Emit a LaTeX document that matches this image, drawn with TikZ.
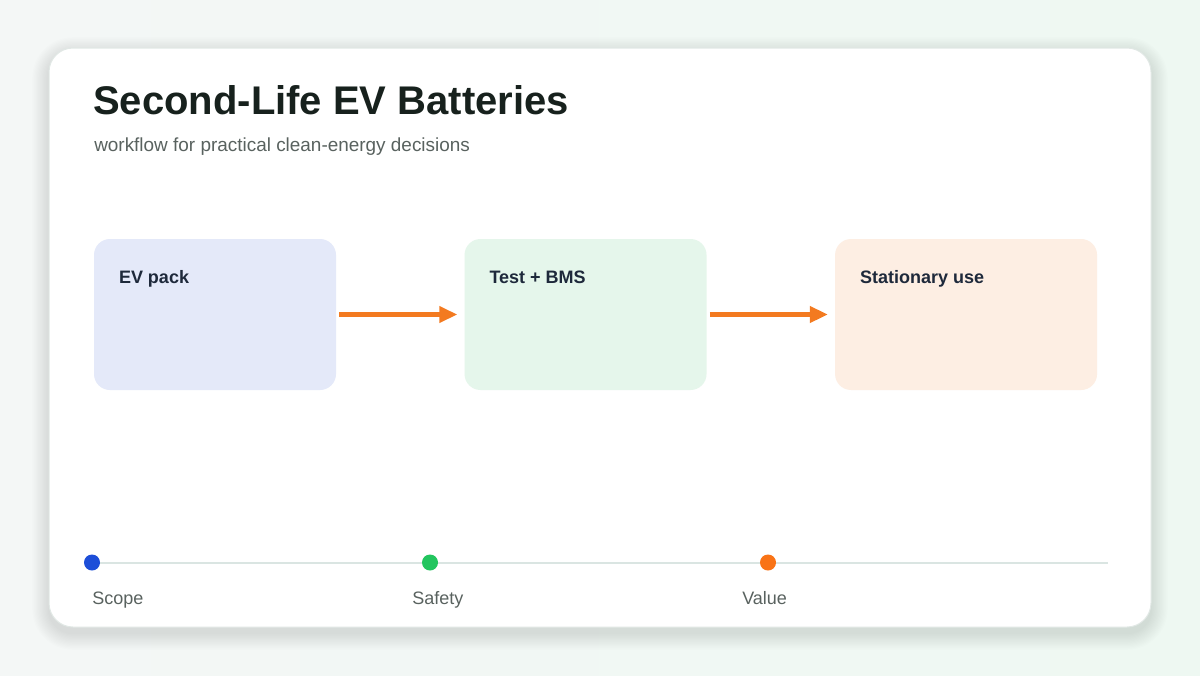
\documentclass[tikz,border=0pt]{standalone}
\usepackage{fontspec}
\setmainfont{Liberation Sans}
\usepackage{tikz}
\usetikzlibrary{arrows.meta, positioning, calc}
\usepackage{xcolor}
\definecolor{pagebg}{HTML}{F4F7F6}
\definecolor{pagebgr}{HTML}{EEF8F2}
\definecolor{cardedge}{HTML}{E1E8E5}
\definecolor{shadowink}{HTML}{2F5A4A}
\definecolor{titleink}{HTML}{17211D}
\definecolor{subink}{HTML}{59625F}
\definecolor{stageink}{HTML}{1E293B}
\definecolor{evfill}{HTML}{E4E9F9}
\definecolor{testfill}{HTML}{E5F6EB}
\definecolor{usefill}{HTML}{FDEEE3}
\definecolor{flowink}{HTML}{F37A20}
\definecolor{trackink}{HTML}{DAE5E2}
\definecolor{scopedot}{HTML}{1D4ED8}
\definecolor{safetydot}{HTML}{22C55E}
\definecolor{valuedot}{HTML}{F97316}

\begin{document}
\begin{tikzpicture}[
      x=0.75pt, y=-0.75pt,
      card/.style={rectangle, rounded corners=18pt, fill=white, draw=cardedge, line width=0.75pt,
                   minimum width=826.5pt, minimum height=434.25pt},
      stage/.style={rectangle, rounded corners=12pt, minimum width=181.5pt, minimum height=113.25pt},
      stagelbl/.style={inner sep=0pt, anchor=base west, font=\bfseries\fontsize{13.5}{16}\selectfont, text=stageink},
      flow/.style={-{Triangle[length=13.5pt, width=12pt]}, line width=3.2pt, flowink,
                   shorten <=2.25pt, shorten >=5.25pt},
      dot/.style={circle, minimum size=12pt, inner sep=0pt},
      track/.style={line width=1.5pt, trackink},
      ticklbl/.style={inner sep=0pt, anchor=base west, font=\fontsize{13.5}{16}\selectfont, text=subink}
    ]
    \useasboundingbox (0,0) rectangle (1200,675);
    \shade[left color=pagebg, right color=pagebgr] (0,0) rectangle (1200,675);

    % soft shadow under the card
    \foreach \s in {1,...,14}
      \fill[shadowink, opacity=0.007, rounded corners=18pt+0.9*\s pt]
        (49-1.2*\s,54-1.2*\s) rectangle (1151+1.2*\s,633+1.2*\s);
    \node[card] (card) at (600,337.5) {};

    % heading
    \node[inner sep=0pt, anchor=base west, font=\bfseries\fontsize{30}{36}\selectfont, text=titleink]
      (title) at (93,114) {Second-Life EV Batteries};
    \node[inner sep=0pt, anchor=base west, font=\fontsize{14.2}{17}\selectfont, text=subink]
      (subtitle) at (94,151) {workflow for practical clean-energy decisions};

    % stages
    \node[stage, fill=evfill] (ev) at (215,314.5) {};
    \node[stage, fill=testfill, right=96pt of ev] (test) {};
    \node[stage, fill=usefill, minimum width=196.5pt, right=96pt of test] (use) {};

    \node[stagelbl] (evlbl) at ($(ev.north west)+(25,45)$) {EV pack};
    \node[stagelbl] (testlbl) at ($(test.north west)+(25,45)$) {Test + BMS};
    \node[stagelbl] (uselbl) at ($(use.north west)+(25,45)$) {Stationary use};

    \draw[flow] (ev) -- (test);
    \draw[flow] (test) -- (use);

    % timeline
    \node[dot, fill=scopedot] (scope) at (92,562.5) {};
    \node[dot, fill=safetydot] (safety) at (430,562.5) {};
    \node[dot, fill=valuedot] (value) at (768,562.5) {};
    \coordinate (trackend) at (1108,562.5);

    \draw[track] (scope.east) -- (safety.west);
    \draw[track] (safety.east) -- (value.west);
    \draw[track] (value.east) -- (trackend);

    \node[ticklbl] (scopelbl) at (92,604) {Scope};
    \node[ticklbl] (safetylbl) at (412,604) {Safety};
    \node[ticklbl] (valuelbl) at (742,604) {Value};
  \end{tikzpicture}
\end{document}
